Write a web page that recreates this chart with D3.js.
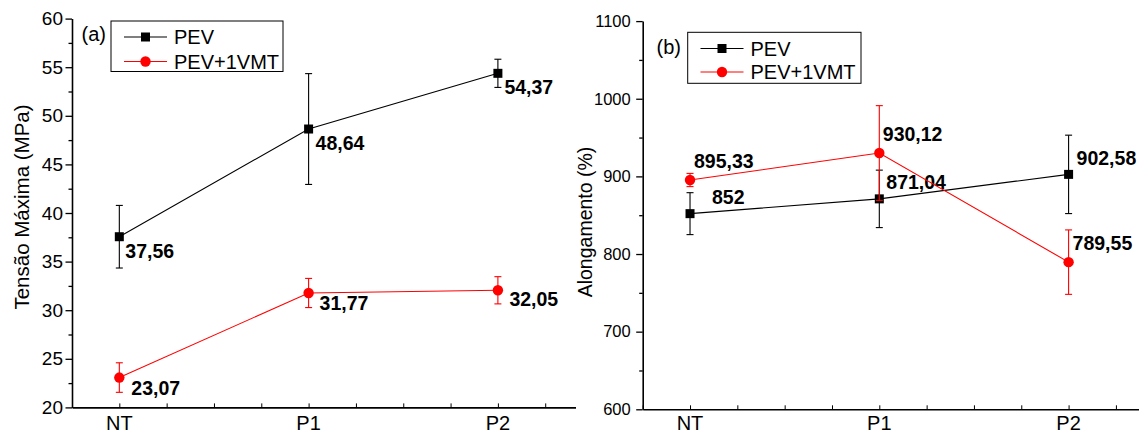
<!DOCTYPE html>
<html>
<head>
<meta charset="utf-8">
<script src="https://cdn.jsdelivr.net/npm/d3@7"></script>
<style>
  body { margin: 0; background: #fff; }
  svg text { font-family: "Liberation Sans", Arial, sans-serif; }
</style>
</head>
<body>
<svg id="chart"></svg>
<script>
// data
var categories = ["NT", "P1", "P2"];
var catPos = [1, 2, 3];

var tensaoPEV = [37.56, 48.64, 54.37];
var tensaoPEVErr = [3.22, 5.7, 1.45];
var tensaoVMT = [23.07, 31.77, 32.05];
var tensaoVMTErr = [1.52, 1.5, 1.4];

var alongPEV = [852, 871.04, 902.58];
var alongPEVErr = [27, 37, 50.5];
var alongVMT = [895.33, 930.12, 789.55];
var alongVMTErr = [8.5, 61, 41.5];

var tensaoTicks = [20, 25, 30, 35, 40, 45, 50, 55, 60];
var alongTicks = [600, 700, 800, 900, 1000, 1100];

var seriesNames = ["PEV", "PEV+1VMT"];

var svg = d3.select("#chart")
    .attr("width", 1139)
    .attr("height", 433);

var fmt = function(v)
{
    return String(v).replace(".", ",");
};

var drawPanel = function(cfg)
{
    var g = svg.append("g");

    var xScale = d3.scaleLinear()
        .domain([0.75, 3.41])
        .range([cfg.left, cfg.left + 503.5]);

    var yScale = d3.scaleLinear()
        .domain(cfg.yDomain)
        .range([cfg.bottom, cfg.top]);

    // y axis: major ticks outward + minor ticks
    var minor = [];
    for (var i = 0; i < cfg.yTicks.length - 1; i++)
    {
        minor.push((cfg.yTicks[i] + cfg.yTicks[i + 1]) / 2);
    }
    g.append("g")
        .attr("transform", "translate(" + cfg.left + ",0)")
        .call(d3.axisLeft(yScale).tickValues(minor).tickSize(3.5).tickFormat(""))
        .call(function(a) { a.select(".domain").remove(); })
        .selectAll("line").attr("stroke-width", 1.3);

    var yAx = g.append("g")
        .attr("transform", "translate(" + cfg.left + ",0)")
        .call(d3.axisLeft(yScale).tickValues(cfg.yTicks).tickSize(6.5).tickSizeOuter(0)
            .tickPadding(cfg.yPad).tickFormat(d3.format("d")));
    yAx.select(".domain").attr("stroke-width", 1.6);
    yAx.selectAll("line").attr("stroke-width", 1.3);
    yAx.selectAll("text")
        .attr("font-size", cfg.yFont + "px")
        .attr("fill", "#000")
        .style("font-family", "'Liberation Sans', Arial, sans-serif");

    // x axis: inward ticks every quarter
    var xTickVals = d3.range(0.75, 3.41, 0.25);
    var xAx = g.append("g")
        .attr("transform", "translate(0," + cfg.bottom + ")")
        .call(d3.axisBottom(xScale).tickValues(xTickVals).tickSize(-4).tickSizeOuter(0).tickFormat(""));
    xAx.select(".domain").attr("stroke-width", 1.6);
    xAx.selectAll("line").attr("stroke-width", 1);

    g.selectAll(".cat")
        .data(categories)
        .enter()
        .append("text")
        .attr("class", "cat")
        .attr("x", function(d, i) { return xScale(catPos[i]); })
        .attr("y", 429.5)
        .attr("text-anchor", "middle")
        .attr("font-size", "20px")
        .text(function(d) { return d; });

    g.append("text")
        .attr("transform", "translate(" + cfg.titleX + "," + cfg.titleY + ") rotate(-90)")
        .attr("text-anchor", "middle")
        .attr("font-size", cfg.titleFont + "px")
        .text(cfg.title);

    var line = d3.line()
        .x(function(d, i) { return xScale(catPos[i]); })
        .y(function(d) { return yScale(d); });

    cfg.series.forEach(function(s)
    {
        var sg = g.append("g");

        sg.append("path")
            .datum(s.values)
            .attr("d", line)
            .attr("fill", "none")
            .attr("stroke", s.color)
            .attr("stroke-width", 1.1);

        s.values.forEach(function(v, i)
        {
            var x = xScale(catPos[i]);
            var y0 = yScale(v - s.err[i]);
            var y1 = yScale(v + s.err[i]);
            sg.append("line").attr("x1", x).attr("x2", x).attr("y1", y0).attr("y2", y1)
                .attr("stroke", s.color).attr("stroke-width", 1.1);
            [y0, y1].forEach(function(yy)
            {
                sg.append("line").attr("x1", x - 3.5).attr("x2", x + 3.5).attr("y1", yy).attr("y2", yy)
                    .attr("stroke", s.color).attr("stroke-width", 1.1);
            });
        });

        if (s.marker == "square")
        {
            sg.selectAll("rect")
                .data(s.values)
                .enter()
                .append("rect")
                .attr("x", function(d, i) { return xScale(catPos[i]) - 4.5; })
                .attr("y", function(d) { return yScale(d) - 4.5; })
                .attr("width", 9)
                .attr("height", 9)
                .attr("fill", s.color);
        }
        else
        {
            sg.selectAll("circle")
                .data(s.values)
                .enter()
                .append("circle")
                .attr("cx", function(d, i) { return xScale(catPos[i]); })
                .attr("cy", function(d) { return yScale(d); })
                .attr("r", 5.2)
                .attr("fill", s.color);
        }

        sg.selectAll(".val")
            .data(s.values)
            .enter()
            .append("text")
            .attr("class", "val")
            .attr("x", function(d, i) { return xScale(catPos[i]) + s.labelOff[i][0]; })
            .attr("y", function(d, i) { return yScale(d) + s.labelOff[i][1]; })
            .attr("font-size", "19.5px")
            .attr("font-weight", "bold")
            .text(fmt);
    });

    // legend
    var lg = cfg.legend;
    g.append("rect")
        .attr("x", lg.x).attr("y", lg.y)
        .attr("width", lg.w).attr("height", lg.h)
        .attr("fill", "#fff").attr("stroke", "#000").attr("stroke-width", 1);

    cfg.series.forEach(function(s, k)
    {
        var ry = lg.rows[k];
        g.append("line")
            .attr("x1", lg.lineX).attr("x2", lg.lineX + 43)
            .attr("y1", ry).attr("y2", ry)
            .attr("stroke", s.color).attr("stroke-width", 1.1);
        if (s.marker == "square")
        {
            g.append("rect").attr("x", lg.lineX + 21.5 - 4.5).attr("y", ry - 4.5)
                .attr("width", 9).attr("height", 9).attr("fill", s.color);
        }
        else
        {
            g.append("circle").attr("cx", lg.lineX + 21.5).attr("cy", ry)
                .attr("r", 5.2).attr("fill", s.color);
        }
        g.append("text")
            .attr("x", lg.lineX + 50)
            .attr("y", ry + 7)
            .attr("font-size", "20px")
            .text(seriesNames[k]);
    });

    g.append("text")
        .attr("x", cfg.tag[0]).attr("y", cfg.tag[1])
        .attr("font-size", "20px")
        .text(cfg.tag[2]);
};

drawPanel({
    left: 72, top: 18.6, bottom: 407.4,
    yDomain: [20, 60], yTicks: tensaoTicks, yFont: 19, yPad: 2.5,
    title: "Tensão Máxima (MPa)", titleX: 29, titleY: 207, titleFont: 20.5,
    tag: [81.5, 41, "(a)"],
    legend: { x: 111, y: 21, w: 172, h: 50.5, lineX: 124, rows: [37, 61.5] },
    series: [
        { values: tensaoPEV, err: tensaoPEVErr, color: "#000", marker: "square",
          labelOff: [[6, 21], [7, 21], [6.5, 21]] },
        { values: tensaoVMT, err: tensaoVMTErr, color: "#ff0000", marker: "circle",
          labelOff: [[12, 17], [11, 17], [11.5, 16]] }
    ]
});

drawPanel({
    left: 642.7, top: 21.1, bottom: 409.3,
    yDomain: [600, 1100], yTicks: alongTicks, yFont: 16.5, yPad: 5.5,
    title: "Alongamento (%)", titleX: 592, titleY: 222, titleFont: 19.5,
    tag: [656.5, 54, "(b)"],
    legend: { x: 687.7, y: 32.3, w: 173.3, h: 51, lineX: 700.5, rows: [48.5, 72] },
    series: [
        { values: alongPEV, err: alongPEVErr, color: "#000", marker: "square",
          labelOff: [[22, -10], [7, -10], [8, -9]] },
        { values: alongVMT, err: alongVMTErr, color: "#ff0000", marker: "circle",
          labelOff: [[4, -12], [3.5, -11.5], [4, -12]] }
    ]
});
</script>
</body>
</html>
